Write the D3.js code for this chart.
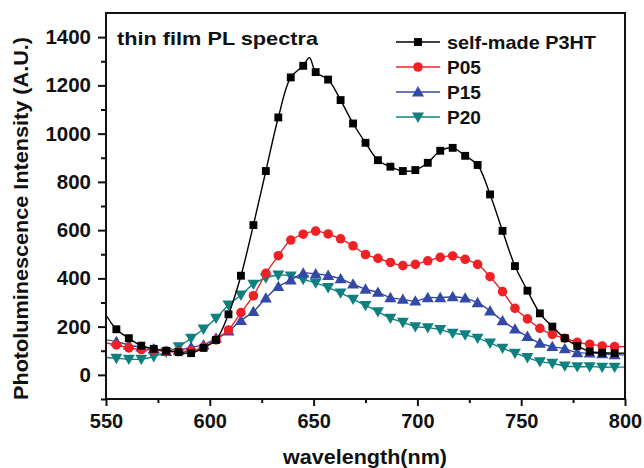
<!DOCTYPE html>
<html>
<head>
<meta charset="utf-8">
<script src="https://cdn.jsdelivr.net/npm/d3@7"></script>
<style>
  html, body { margin: 0; padding: 0; background: #fff; }
  svg { display: block; }
  text { font-family: "Liberation Sans", Arial, sans-serif; font-weight: bold; fill: #111; }
</style>
</head>
<body>
<svg id="chart" width="644" height="468"></svg>
<script>
// ---- data ----
const wavelengths = [555,561,567,573,579,585,591,597,603,609,615,621,627,633,639,645,651,657,663,669,675,681,687,693,699,705,711,717,723,729,735,741,747,753,759,765,771,777,783,789,795];
const p3ht = [189,152,121,108,100,94,90,112,145,251,411,621,845,1067,1233,1281,1255,1224,1139,1042,962,890,863,845,849,879,929,941,908,870,748,597,451,349,255,200,152,120,97,92,90];
const p05 = [124,112,105,103,98,97,100,115,145,186,258,328,421,494,559,583,596,584,564,535,499,483,466,453,458,473,487,493,479,458,407,345,276,232,193,168,152,135,127,120,117];
const p15 = [138,124,115,108,97,101,115,124,152,182,225,262,318,366,393,422,418,412,398,376,355,342,320,313,306,320,320,324,318,299,265,224,190,159,131,117,108,92,90,87,83];
const p20 = [69,65,65,76,94,117,152,190,235,290,331,376,402,414,410,396,381,362,340,314,288,262,235,218,200,196,188,173,166,152,132,111,90,72,55,48,37,34,34,32,32];
// extra points on the traced lines (edges of the window, sharp peak) that carry no symbol
const p3htLineExtra = [[550,248],[648,1315],[800,90]];
const p05LineExtra = [[550,132],[800,117]];
const p15LineExtra = [[550,145],[800,83]];
const p20LineExtra = [[550,72],[800,32]];
const seriesNames = ["self-made P3HT","P05","P15","P20"];
const xTicks = [550,600,650,700,750,800];
const xMinorTicks = [575,625,675,725,775];
const yTicks = [0,200,400,600,800,1000,1200,1400];
const yMinorTicks = [-100,100,300,500,700,900,1100,1300];
const titleText = "thin film PL spectra";
const xTitle = "wavelength(nm)";
const yTitle = "Photoluminescence Intensity (A.U.)";

// ---- layout ----
const L = 106, R = 625, T = 13, B = 399;
const svg = d3.select("#chart");
const x = d3.scaleLinear().domain([550, 800]).range([L, R]);
const y = d3.scaleLinear().domain([-100, 1500]).range([B, T]);

const styles = [
  {color: "#000000", symbol: d3.symbolSquare, size: 62, rotate: 0, values: p3ht, extra: p3htLineExtra},
  {color: "#ee2127", symbol: d3.symbolCircle, size: 72, rotate: 0, values: p05, extra: p05LineExtra},
  {color: "#3448a8", symbol: d3.symbolTriangle, size: 62, rotate: 0, values: p15, extra: p15LineExtra},
  {color: "#0f8080", symbol: d3.symbolTriangle, size: 62, rotate: 180, values: p20, extra: p20LineExtra}
];

svg.append("defs").append("clipPath").attr("id", "clip")
  .append("rect").attr("x", L).attr("y", T).attr("width", R - L).attr("height", B - T);

const line = d3.line().x(d => x(d[0])).y(d => y(d[1])).curve(d3.curveCatmullRom.alpha(0.5));
const symOffset = s => s.rotate ? -1 : (s.symbol === d3.symbolTriangle ? 1 : 0);

const plot = svg.append("g").attr("clip-path", "url(#clip)");
const order = [3, 2, 1, 0];
order.forEach(i => {
  const s = styles[i];
  const pts = wavelengths.map((w, k) => [w, s.values[k]]).concat(s.extra).sort((a, b) => a[0] - b[0]);
  plot.append("path").datum(pts).attr("d", line)
    .attr("fill", "none").attr("stroke", s.color).attr("stroke-width", 1.4);
  const sym = d3.symbol().type(s.symbol).size(s.size);
  plot.append("g").selectAll("path").data(wavelengths.map((w, k) => [w, s.values[k]]))
    .join("path")
    .attr("d", sym)
    .attr("transform", d => `translate(${x(d[0])},${y(d[1]) + symOffset(s)}) rotate(${s.rotate})`)
    .attr("fill", s.color);
});

// ---- frame ----
svg.append("rect").attr("x", L).attr("y", T).attr("width", R - L).attr("height", B - T)
  .attr("fill", "none").attr("stroke", "#111").attr("stroke-width", 2);

// ---- axes ----
const xAxis = svg.append("g").attr("transform", `translate(0,${B})`)
  .call(d3.axisBottom(x).tickValues(xTicks).tickSize(7).tickPadding(8).tickFormat(d3.format("d")));
xAxis.select(".domain").remove();
xAxis.selectAll(".tick line").attr("stroke", "#111").attr("stroke-width", 2);
xAxis.selectAll("text").style("font-size", "20px").attr("fill", "#111");
const xMinor = svg.append("g").attr("transform", `translate(0,${B})`)
  .call(d3.axisBottom(x).tickValues(xMinorTicks).tickSize(4).tickFormat(""));
xMinor.select(".domain").remove();
xMinor.selectAll(".tick line").attr("stroke", "#111").attr("stroke-width", 2);

const yAxis = svg.append("g").attr("transform", `translate(${L},0)`)
  .call(d3.axisLeft(y).tickValues(yTicks).tickSize(8).tickPadding(7).tickFormat(d3.format("d")));
yAxis.select(".domain").remove();
yAxis.selectAll(".tick line").attr("stroke", "#111").attr("stroke-width", 2);
yAxis.selectAll("text").style("font-size", "20.5px").attr("fill", "#111");
const yMinor = svg.append("g").attr("transform", `translate(${L},0)`)
  .call(d3.axisLeft(y).tickValues(yMinorTicks).tickSize(5).tickFormat(""));
yMinor.select(".domain").remove();
yMinor.selectAll(".tick line").attr("stroke", "#111").attr("stroke-width", 2);

// ---- titles ----
svg.append("text").attr("x", 283).attr("y", 464)
  .attr("textLength", 164).attr("lengthAdjust", "spacingAndGlyphs")
  .style("font-size", "20px").text(xTitle);
svg.append("text").attr("transform", "translate(28,400) rotate(-90)")
  .attr("textLength", 363).attr("lengthAdjust", "spacingAndGlyphs")
  .style("font-size", "19.5px").text(yTitle);
svg.append("text").attr("x", 117).attr("y", 45)
  .attr("textLength", 201).attr("lengthAdjust", "spacingAndGlyphs")
  .style("font-size", "19px").text(titleText);

// ---- legend ----
const legendLengths = [149, 34, 34, 34];
const lg = svg.append("g");
styles.forEach((s, i) => {
  const cy = 42 + i * 25;
  lg.append("line").attr("x1", 396).attr("x2", 440).attr("y1", cy).attr("y2", cy)
    .attr("stroke", s.color).attr("stroke-width", 1.4);
  lg.append("path").attr("d", d3.symbol().type(s.symbol).size(s.size))
    .attr("transform", `translate(418,${cy + symOffset(s)}) rotate(${s.rotate})`)
    .attr("fill", s.color);
  lg.append("text").attr("x", 447).attr("y", cy + 7)
    .attr("textLength", legendLengths[i]).attr("lengthAdjust", "spacingAndGlyphs")
    .style("font-size", "19px").text(seriesNames[i]);
});
</script>
</body>
</html>
